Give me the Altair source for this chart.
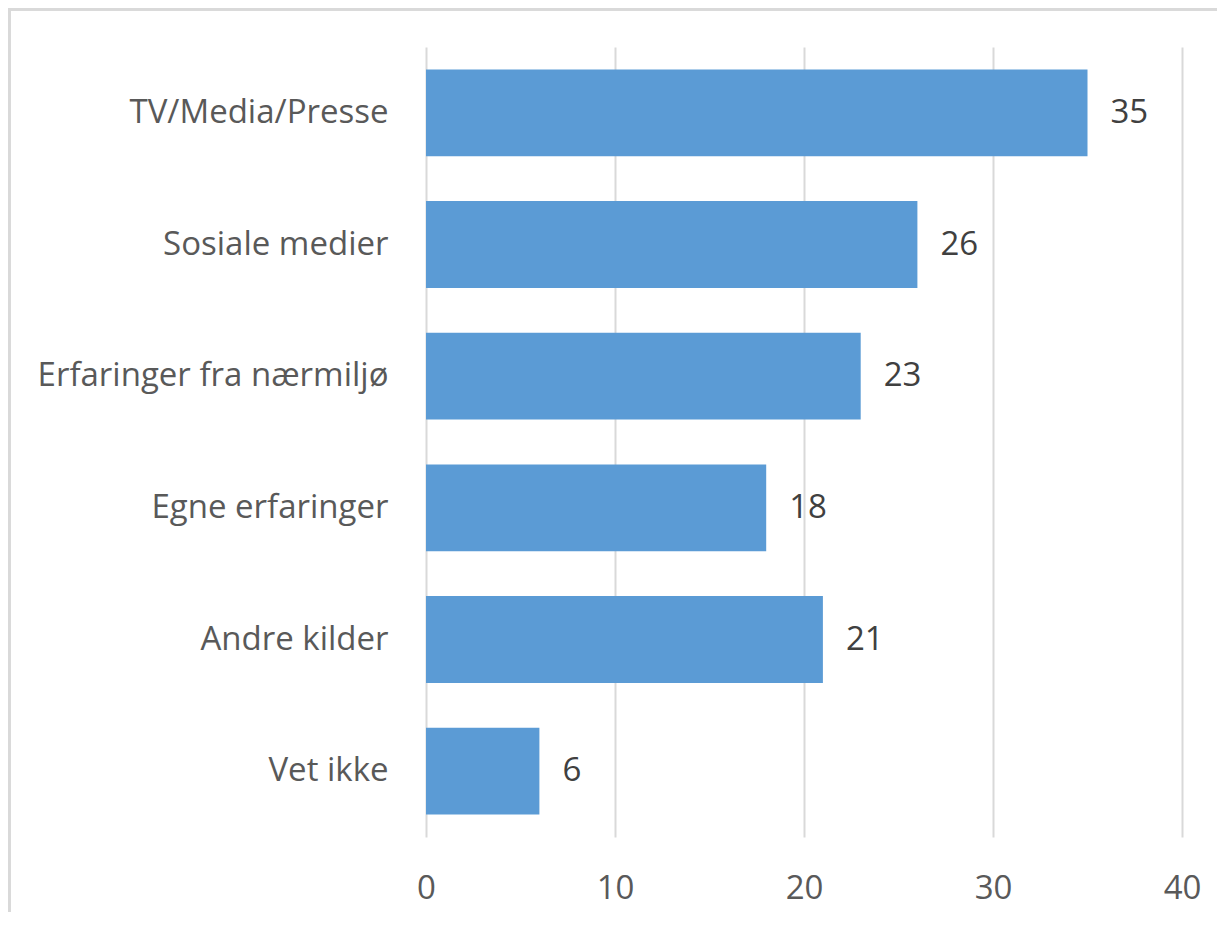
import altair as alt
import pandas as pd

categories = ["TV/Media/Presse", "Sosiale medier", "Erfaringer fra nærmiljø",
              "Egne erfaringer", "Andre kilder", "Vet ikke"]
values = [35, 26, 23, 18, 21, 6]
x_ticks = [0, 10, 20, 30, 40]

df = pd.DataFrame({"kategori": categories, "verdi": values})

FONT = "Open Sans"
FS = 33

y_enc = alt.Y("kategori:N", sort=categories, title=None,
              scale=alt.Scale(paddingInner=0.34, paddingOuter=0.17),
              axis=alt.Axis(labelFont=FONT, labelFontSize=FS, labelColor="#595959",
                            labelPadding=38, ticks=False, domain=False, grid=False,
                            labelLimit=500))
x_enc = alt.X("verdi:Q", title=None,
              scale=alt.Scale(domain=[0, 40], nice=False),
              axis=alt.Axis(values=x_ticks, labelFont=FONT, labelFontSize=FS,
                            labelColor="#595959", labelPadding=35, ticks=False,
                            labelFlush=False, labelOverlap=False,
                            domain=False, grid=True, gridColor="#d9d9d9",
                            gridWidth=2))

bars = alt.Chart(df).mark_bar(color="#5B9BD5").encode(x=x_enc, y=y_enc)

text = alt.Chart(df).mark_text(align="left", baseline="middle", dx=23,
                               font=FONT, fontSize=FS, color="#404040").encode(
    x=alt.X("verdi:Q"), y=alt.Y("kategori:N", sort=categories), text="verdi:Q")

border = alt.Chart(df).mark_rect(fill=None, stroke="#d9d9d9", strokeWidth=3).encode(
    x=alt.value(-417), x2=alt.value(820), y=alt.value(-38), y2=alt.value(900))

chart = alt.layer(border, bars, text).properties(
    width=756, height=790,
    autosize=alt.AutoSizeParams(type="none"),
    padding={"left": 418, "top": 39, "right": 35, "bottom": 75},
).configure_view(stroke=None)

chart.save("out.html", embed_options={"renderer": "svg", "actions": False})
